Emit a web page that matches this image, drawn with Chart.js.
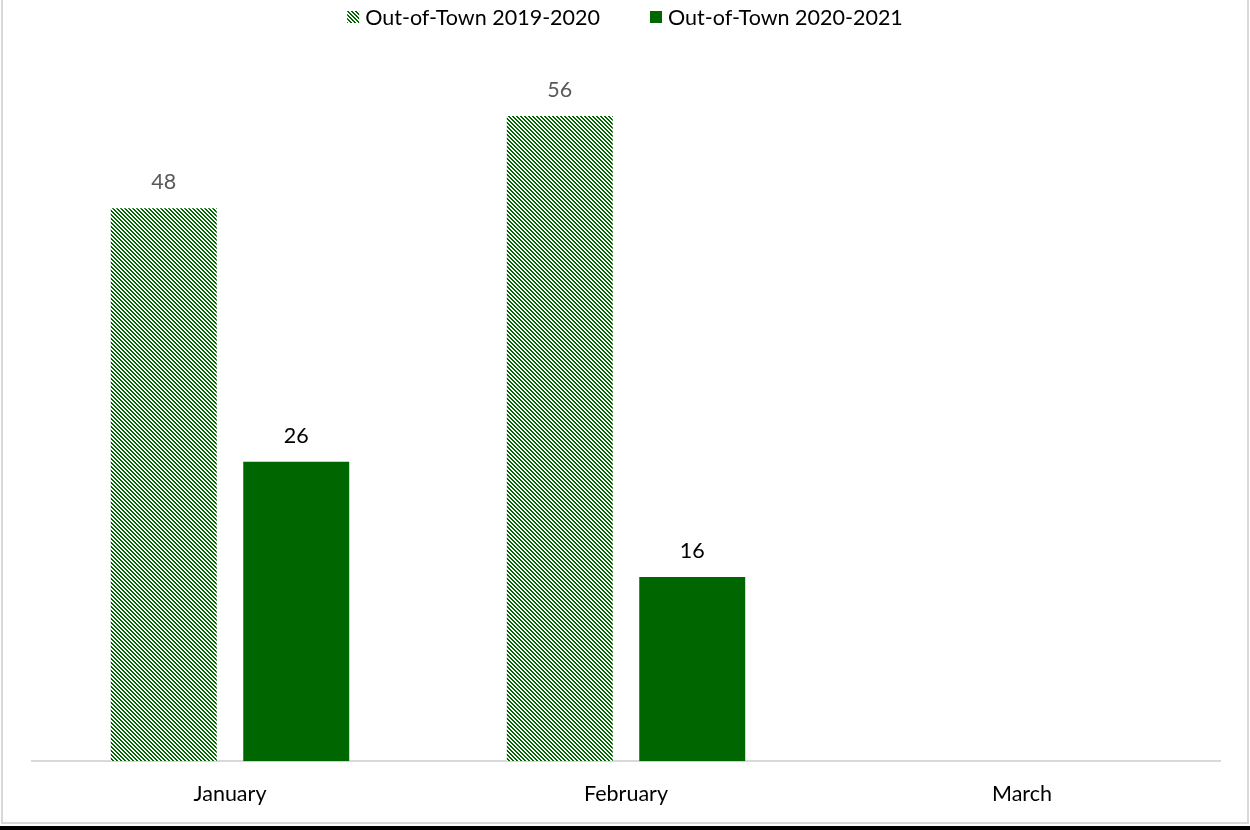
<!DOCTYPE html>
<html>
<head>
<meta charset="utf-8">
<script src="https://cdn.jsdelivr.net/npm/chart.js@4.4.1/dist/chart.umd.min.js"></script>
<style>
  html, body { margin: 0; padding: 0; background: #fff; }
  #wrap { position: relative; width: 1250px; height: 830px; overflow: hidden; }
  #frame { position: absolute; left: 1px; top: -2px; width: 1244px; height: 822px;
           border: 2px solid #d9d9d9; pointer-events: none; }
  #strip { position: absolute; left: 0; top: 826px; width: 1250px; height: 4px; background: #000; }
  canvas { position: absolute; left: 0; top: 0; }
</style>
</head>
<body>
<div id="wrap">
  <canvas id="c" width="1250" height="830"></canvas>
  <div id="frame"></div>
  <div id="strip"></div>
</div>
<script>
const months = ['January', 'February', 'March'];
const season2019 = [48, 56, null];
const season2020 = [26, 16, null];
const seriesNames = ['Out-of-Town 2019-2020', 'Out-of-Town 2020-2021'];

const GREEN = '#006600';
const FONT = 'Lato, "Open Sans", sans-serif';
const FONT_SIZE = 21.5;

// Downward diagonal hatch used for the earlier season
function hatch() {
  const t = document.createElement('canvas');
  t.width = 4; t.height = 4;
  const g = t.getContext('2d');
  g.fillStyle = '#fff';
  g.fillRect(0, 0, 4, 4);
  g.fillStyle = GREEN;
  for (let y = 0; y < 4; y++) {
    for (let x = 0; x < 4; x++) {
      const d = ((x - y) % 4 + 4) % 4;
      if (d === 0 || d === 1) g.fillRect(x, y, 1, 1);
    }
  }
  return g.createPattern(t, 'repeat');
}
const hatchFill = hatch();

const valueLabels = {
  id: 'valueLabels',
  afterDatasetsDraw(chart) {
    const ctx = chart.ctx;
    ctx.save();
    ctx.font = FONT_SIZE + 'px ' + FONT;
    ctx.textAlign = 'center';
    ctx.textBaseline = 'middle';
    chart.data.datasets.forEach((ds, i) => {
      const meta = chart.getDatasetMeta(i);
      ctx.fillStyle = ds.labelColor;
      meta.data.forEach((el, j) => {
        const v = ds.data[j];
        if (v === null || v === undefined) return;
        ctx.fillText(String(v), el.x, el.y - 26);
      });
    });
    ctx.restore();
  }
};

const topLegend = {
  id: 'topLegend',
  afterDraw(chart) {
    const ctx = chart.ctx;
    ctx.save();
    ctx.font = FONT_SIZE + 'px ' + FONT;
    ctx.textBaseline = 'middle';
    const box = 12, gapText = 6, gapItem = 50;
    const items = chart.data.datasets.map(ds => ({
      label: ds.label, fill: ds.backgroundColor, w: ctx.measureText(ds.label).width
    }));
    let total = 0;
    items.forEach((it, i) => { total += box + gapText + it.w + (i ? gapItem : 0); });
    let x = (chart.width - total) / 2;
    const y = 17;
    items.forEach((it, i) => {
      if (i) x += gapItem;
      ctx.fillStyle = it.fill;
      ctx.fillRect(x, y - 6, box, box);
      ctx.fillStyle = '#000';
      ctx.fillText(it.label, x + box + gapText, y + 1);
      x += box + gapText + it.w;
    });
    ctx.restore();
  }
};

new Chart(document.getElementById('c'), {
  type: 'bar',
  data: {
    labels: months,
    datasets: [
      { label: seriesNames[0], data: season2019, backgroundColor: hatchFill, labelColor: '#595959' },
      { label: seriesNames[1], data: season2020, backgroundColor: GREEN, labelColor: '#000' }
    ]
  },
  options: {
    responsive: false,
    animation: false,
    events: [],
    layout: { padding: { top: 70, left: 32, right: 30, bottom: 3 } },
    datasets: { bar: { categoryPercentage: 0.669, barPercentage: 0.8 } },
    plugins: { legend: { display: false }, tooltip: { enabled: false } },
    scales: {
      x: {
        grid: { display: false, drawTicks: false },
        border: { display: true, color: '#d9d9d9', width: 2 },
        ticks: { color: '#000', font: { family: FONT, size: FONT_SIZE }, padding: 20 }
      },
      y: {
        display: false,
        min: 0,
        max: 60
      }
    }
  },
  plugins: [valueLabels, topLegend]
});
</script>
</body>
</html>
